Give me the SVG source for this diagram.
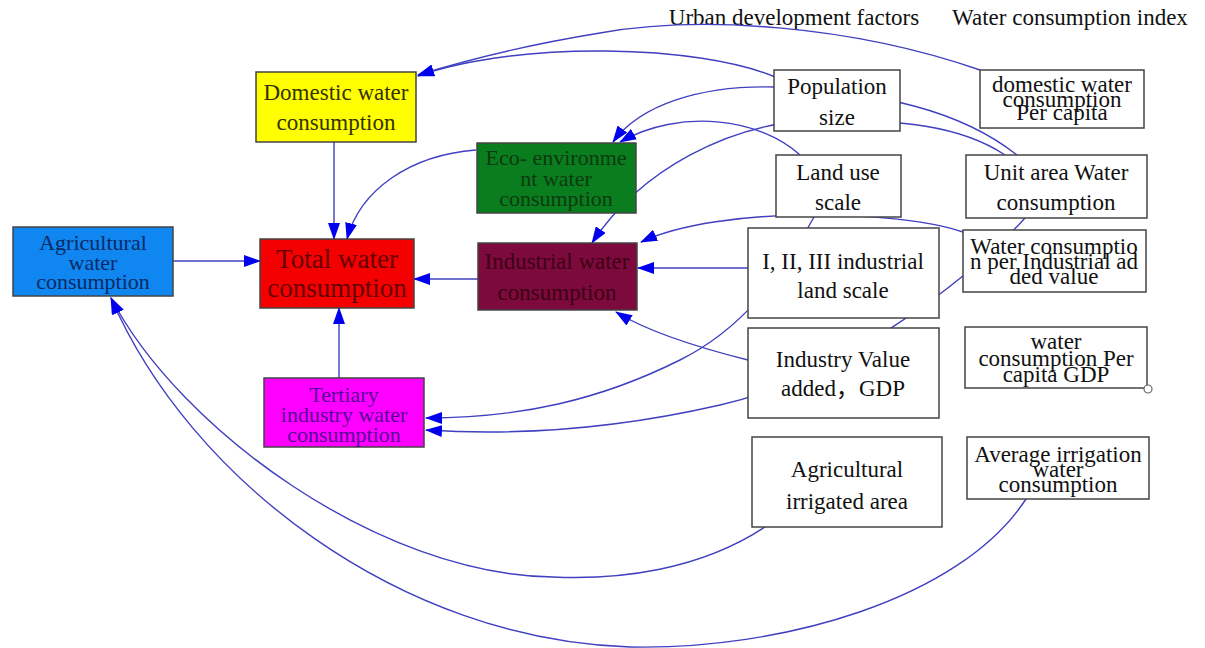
<svg xmlns="http://www.w3.org/2000/svg" width="1205" height="648" viewBox="0 0 1205 648">
<style>
.t{font-family:"Liberation Serif","Times New Roman","Noto Sans CJK SC",serif;font-size:23px;text-anchor:middle;fill:#111}
.s{font-size:22px}
.box{stroke:#444;stroke-width:1.5}
.w{fill:#fff}
.e{fill:none;stroke:#4040c0;stroke-width:1.4}
</style>
<defs>
<marker id="ah" markerUnits="userSpaceOnUse" markerWidth="17" markerHeight="12" viewBox="0 0 17 12" refX="16" refY="6" orient="auto">
<path d="M0,0 L17,6 L0,12 z" fill="#0000ee"/>
</marker>
</defs>
<rect width="1205" height="648" fill="#fff"/>
<g id="headers">
<text class="t" x="794" y="25">Urban development factors</text>
<text class="t" x="1070" y="25">Water consumption index</text>
</g>
<g id="connectors">
<path class="e" marker-end="url(#ah)" d="M980,70 C850,25 700,15 600,33 C520,46 460,62 418,75"/>
<path class="e" marker-end="url(#ah)" d="M775,77 C700,45 520,40 418,76"/>
<path class="e" marker-end="url(#ah)" d="M1017,155 C960,110 880,92 775,87 C700,85 640,105 613,142"/>
<path class="e" marker-end="url(#ah)" d="M800,155 C760,118 680,108 620,142"/>
<path class="e" marker-end="url(#ah)" d="M1005,155 C960,125 900,120 820,120 C730,122 640,170 592,243"/>
<path class="e" marker-end="url(#ah)" d="M963,232 C900,210 720,205 641,242"/>
<path class="e" marker-end="url(#ah)" d="M748,268 L638,268"/>
<path class="e" marker-end="url(#ah)" d="M748,360 C700,348 650,333 616,312"/>
<path class="e" marker-end="url(#ah)" d="M814,217 C780,280 740,330 680,360 C600,400 520,418 426,418"/>
<path class="e" marker-end="url(#ah)" d="M1025,218 C960,290 830,380 720,405 C620,428 520,436 426,430"/>
<path class="e" marker-end="url(#ah)" d="M765,527 C700,570 620,580 553,577 C380,575 180,430 111,298"/>
<path class="e" marker-end="url(#ah)" d="M1026,499 C960,600 780,650 630,647 C400,640 190,480 111,298"/>
<path class="e" marker-end="url(#ah)" d="M334,142 L334,239"/>
<path class="e" marker-end="url(#ah)" d="M476,150 C410,155 360,190 347,239"/>
<path class="e" marker-end="url(#ah)" d="M173,261 L260,261"/>
<path class="e" marker-end="url(#ah)" d="M478,279 L414,279"/>
<path class="e" marker-end="url(#ah)" d="M339,378 L339,308"/>
</g>
<g id="domestic">
<rect class="box" x="256" y="72" width="160" height="70" fill="#ffff00"/>
<text class="t" x="336" y="100" style="fill:#333300">Domestic water</text>
<text class="t" x="336" y="130" style="fill:#333300">consumption</text>
</g>
<g id="agricultural">
<rect class="box" x="13" y="227" width="160" height="69" fill="#0f86f0"/>
<text class="t s" x="93" y="250" style="fill:#0a2a66">Agricultural</text>
<text class="t s" x="93" y="270" style="fill:#0a2a66">water</text>
<text class="t s" x="93" y="289" style="fill:#0a2a66">consumption</text>
</g>
<g id="total">
<rect class="box" x="260" y="239" width="154" height="69" fill="#f40000"/>
<text class="t" x="337" y="268" style="font-size:27px;fill:#660000">Total water</text>
<text class="t" x="337" y="297" style="font-size:27px;fill:#660000">consumption</text>
</g>
<g id="eco">
<rect class="box" x="477" y="143" width="159" height="70" fill="#0a7d1e"/>
<text class="t s" x="556" y="165" style="fill:#0c3a10">Eco- environme</text>
<text class="t s" x="556" y="186" style="fill:#0c3a10">nt water</text>
<text class="t s" x="556" y="206" style="fill:#0c3a10">consumption</text>
</g>
<g id="industrial">
<rect class="box" x="478" y="243" width="159" height="67" fill="#7d0a3c"/>
<text class="t" x="557" y="269" style="fill:#3d0015">Industrial water</text>
<text class="t" x="557" y="300" style="fill:#3d0015">consumption</text>
</g>
<g id="tertiary">
<rect class="box" x="264" y="378" width="160" height="69" fill="#ff00ff"/>
<text class="t s" x="344" y="402" style="fill:#5a0099">Tertiary</text>
<text class="t s" x="344" y="422" style="fill:#5a0099">industry water</text>
<text class="t s" x="344" y="442" style="fill:#5a0099">consumption</text>
</g>
<g id="population">
<rect class="box w" x="774" y="70" width="126" height="61"/>
<text class="t" x="837" y="94">Population</text>
<text class="t" x="837" y="125">size</text>
</g>
<g id="domestic-per-capita">
<rect class="box w" x="980" y="70" width="164" height="58"/>
<text class="t" x="1062" y="92">domestic water</text>
<text class="t" x="1062" y="107">consumption</text>
<text class="t" x="1062" y="120">Per capita</text>
</g>
<g id="land-use">
<rect class="box w" x="776" y="155" width="125" height="62"/>
<text class="t" x="838" y="180">Land use</text>
<text class="t" x="838" y="210">scale</text>
</g>
<g id="unit-area">
<rect class="box w" x="966" y="155" width="181" height="63"/>
<text class="t" x="1056" y="180">Unit area Water</text>
<text class="t" x="1056" y="210">consumption</text>
</g>
<g id="industrial-land">
<rect class="box w" x="748" y="228" width="191" height="90"/>
<text class="t" x="843" y="269">I, II, III industrial</text>
<text class="t" x="843" y="298">land scale</text>
</g>
<g id="per-industrial-value">
<rect class="box w" x="963" y="230" width="183" height="62"/>
<text class="t" x="1054" y="254">Water consumptio</text>
<text class="t" x="1054" y="269">n per Industrial ad</text>
<text class="t" x="1054" y="284">ded value</text>
</g>
<g id="industry-value">
<rect class="box w" x="748" y="328" width="191" height="90"/>
<text class="t" x="843" y="367">Industry Value</text>
<text class="t" x="843" y="396">added，GDP</text>
</g>
<g id="per-capita-gdp">
<rect class="box w" x="965" y="327" width="182" height="61"/>
<text class="t" x="1056" y="349">water</text>
<text class="t" x="1056" y="366">consumption Per</text>
<text class="t" x="1056" y="382">capita GDP</text>
<circle cx="1148" cy="389" r="4" fill="#fff" stroke="#666" stroke-width="1.2"/>
</g>
<g id="irrigated-area">
<rect class="box w" x="752" y="437" width="190" height="90"/>
<text class="t" x="847" y="477">Agricultural</text>
<text class="t" x="847" y="509">irrigated area</text>
</g>
<g id="avg-irrigation">
<rect class="box w" x="967" y="437" width="182" height="62"/>
<text class="t" x="1058" y="462">Average irrigation</text>
<text class="t" x="1058" y="477">water</text>
<text class="t" x="1058" y="492">consumption</text>
</g>
</svg>
